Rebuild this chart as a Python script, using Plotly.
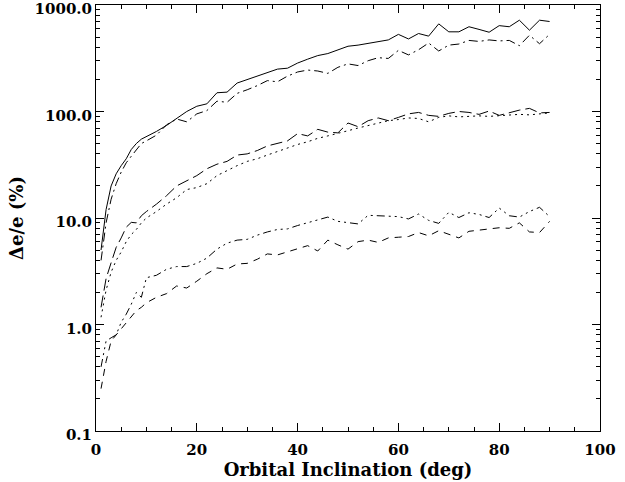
import plotly.graph_objects as go

inclination = [1, 2, 3, 4, 5, 6, 7, 8, 9, 10, 12, 14, 16, 18, 20, 22, 24, 26, 28, 30,
               32, 34, 36, 38, 40, 42, 44, 46, 48, 50, 52, 54, 56, 58, 60, 62, 64, 66, 68, 70,
               72, 74, 76, 78, 80, 82, 84, 86, 88, 90]

series_solid = [5, 12, 20, 26, 31, 36, 44, 50, 55, 58, 65, 74, 86, 100, 112, 118, 150, 152, 185, 200,
                215, 235, 250, 255, 285, 310, 335, 350, 380, 410, 420, 435, 455, 470, 530, 480, 540, 510, 665, 560,
                560, 625, 590, 555, 640, 625, 720, 580, 720, 700]

series_dashdot = [4, 9, 15, 21, 27, 33, 38, 44, 50, 53, 60, 75, 85, 80, 95, 102, 125, 122, 148, 160,
                  175, 195, 190, 215, 235, 245, 240, 228, 260, 280, 270, 300, 320, 315, 375, 340, 380, 440, 370, 420,
                  430, 465, 455, 470, 460, 465, 415, 520, 433, 530]

series_longdash = [1.45, 2.7, 3.8, 5.3, 6.5, 8.2, 9.1, 9.0, 10.5, 11.5, 13.5, 16.2, 20, 22.5, 25, 29, 32, 34, 39, 40,
                   43, 47.5, 50, 53, 62, 59, 68, 64, 63, 78, 72, 82, 87, 82, 88, 95, 98, 92, 90, 96,
                   100, 98, 94, 101, 92, 98, 103, 107, 97, 98]

series_dotted = [1.17, 2.1, 3.1, 4.0, 4.8, 6.0, 7.0, 7.8, 9.0, 10, 11.5, 13.5, 15.5, 18.5, 19.3, 21, 25, 28, 31, 34,
                 36, 39, 42, 46, 49, 52, 56, 59, 62, 66, 70, 74, 78, 82, 84, 87, 86, 80, 88, 91,
                 89, 90, 91, 90, 91, 92, 94, 93, 95, 97]

series_dash3dot = [0.4, 0.7, 0.75, 0.8, 1.05, 1.25, 1.55, 2.0, 1.8, 2.75, 2.9, 3.3, 3.5, 3.5, 3.75, 4.2, 5.1, 5.8, 6.2, 6.3,
                   6.9, 7.4, 7.8, 7.9, 8.5, 9.0, 9.5, 10.2, 9.3, 9.0, 8.8, 10.6, 10.5, 10.4, 10.3, 9.8, 10.9, 9.5, 8.9, 11.3,
                   10.1, 11.2, 10.8, 10.1, 12.4, 10.5, 10.2, 11.5, 12.6, 10.3]

series_dashed = [0.25, 0.45, 0.7, 0.8, 0.92, 1.05, 1.2, 1.35, 1.45, 1.6, 1.8, 1.95, 2.3, 2.2, 2.55, 3.0, 3.4, 3.3, 3.7, 3.75,
                 4.1, 4.6, 4.5, 4.8, 5.1, 5.5, 4.9, 6.2, 5.6, 5.1, 6.0, 6.2, 5.9, 6.5, 6.6, 6.7, 7.3, 6.8, 7.6, 7.0,
                 6.5, 7.5, 7.7, 7.9, 8.1, 8.0, 9.0, 7.4, 7.3, 9.3]

y_tickvals = [0.1, 1, 10, 100, 1000]
y_ticktext = ["0.1", "1.0", "10.0", "100.0", "1000.0"]
x_tickvals = [0, 20, 40, 60, 80, 100]

styles = [
    (series_solid, "solid"),
    (series_dashdot, "9px,4px,2px,4px"),
    (series_longdash, "12px,5px"),
    (series_dotted, "2px,4px"),
    (series_dash3dot, "8px,4px,2px,4px,2px,4px,2px,4px"),
    (series_dashed, "7px,6px"),
]

fig = go.Figure()
for ys, dash in styles:
    fig.add_trace(go.Scatter(x=inclination, y=ys, mode="lines",
                             line=dict(color="black", width=1, dash=dash),
                             showlegend=False, hoverinfo="skip"))

tick_font = dict(family="DejaVu Serif", size=15, color="black", weight="bold")
title_font = dict(family="DejaVu Serif", size=18, color="black", weight="bold")

fig.update_layout(
    width=625, height=482,
    margin=dict(l=96, r=25, t=5, b=51),
    paper_bgcolor="white", plot_bgcolor="white",
    font=tick_font,
    showlegend=False,
)
fig.update_xaxes(
    range=[0, 100], tickvals=x_tickvals, ticks="inside", ticklen=8, tickwidth=1,
    tickcolor="black", showline=True, linecolor="black", linewidth=1, mirror="ticks",
    showgrid=False, zeroline=False, tickfont=tick_font, ticklabelstandoff=5,
    ticklabeloverflow="allow", automargin=False,
    minor=dict(ticks="inside", ticklen=4, dtick=5, tickcolor="black", showgrid=False),
    title=dict(text="Orbital Inclination (deg)", font=title_font, standoff=2),
)
fig.update_yaxes(
    type="log", range=[-1, 3], tickvals=y_tickvals, ticktext=y_ticktext,
    ticks="inside", ticklen=8, tickwidth=1, tickcolor="black",
    showline=True, linecolor="black", linewidth=1, mirror="ticks",
    showgrid=False, zeroline=False, tickfont=tick_font, ticklabeloverflow="allow",
    ticklabelshift=4, automargin=False,
    minor=dict(ticks="inside", ticklen=4, dtick="D1", tickcolor="black", showgrid=False),
    title=dict(text="Δe/e (%)", font=title_font, standoff=6),
)

fig.write_html("out.html")
